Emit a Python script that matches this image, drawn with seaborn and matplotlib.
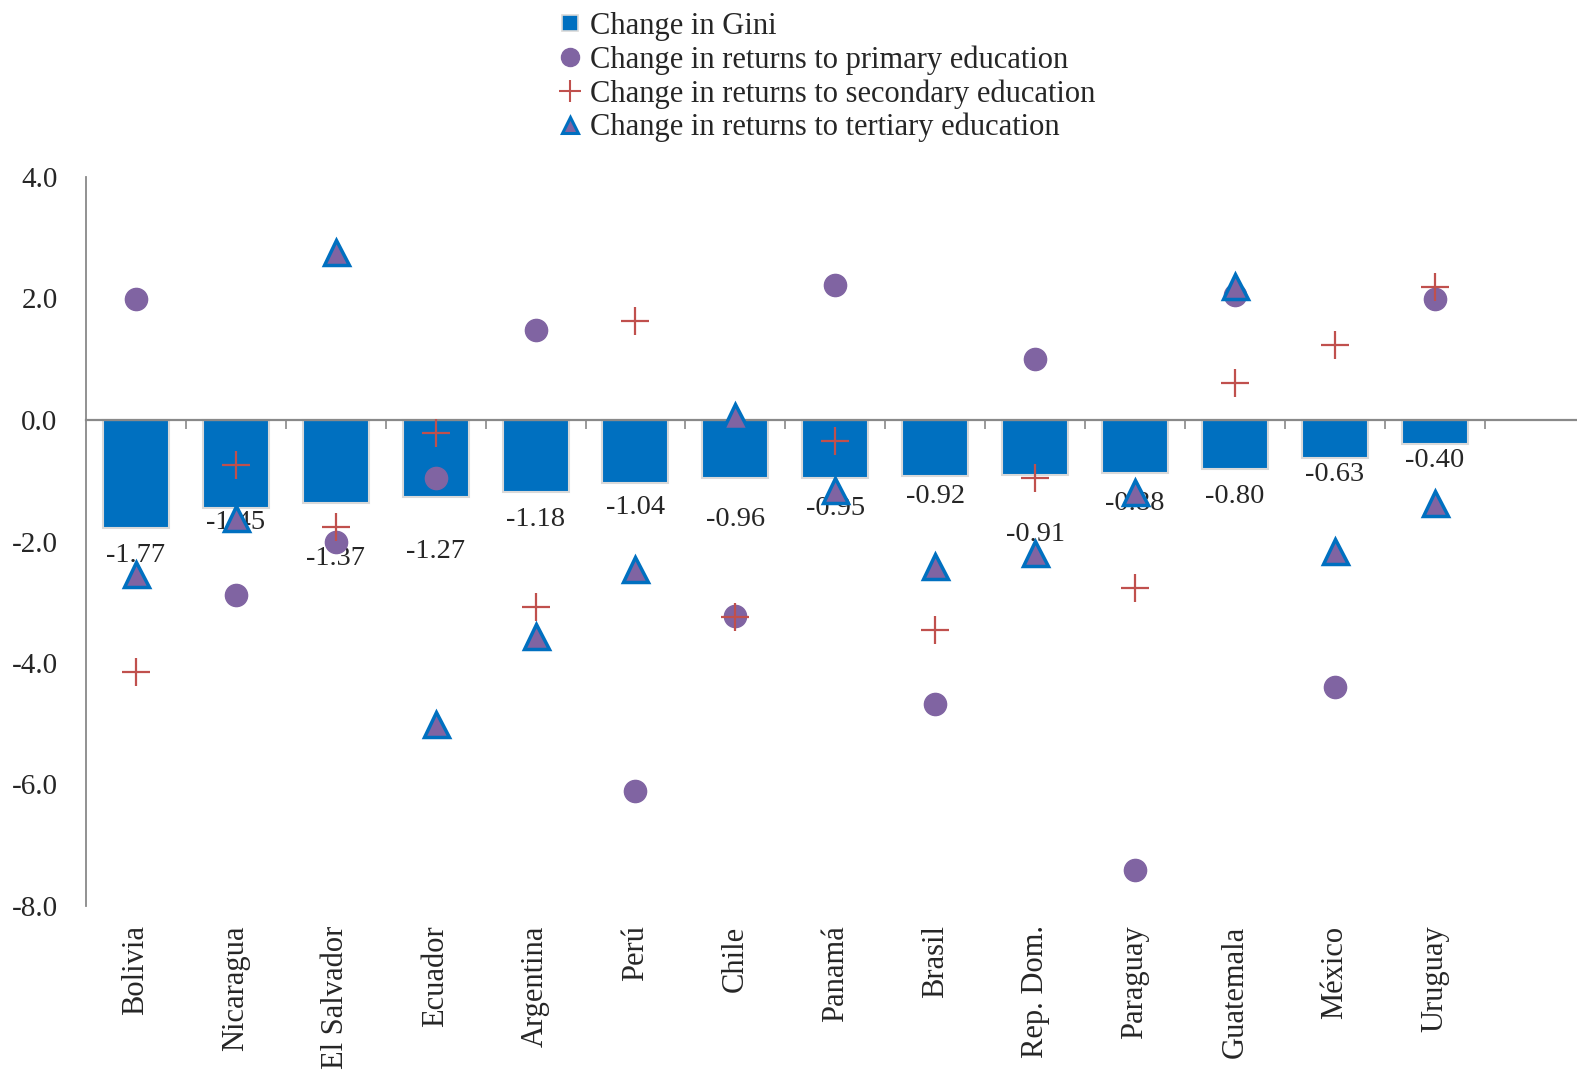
"""
Recreate the Gini change vs. returns to education chart for Latin America.

Bars show the change in the Gini coefficient; markers show the change in
returns to primary, secondary and tertiary education.
"""

import matplotlib.pyplot as plt
import numpy as np
import pandas as pd
import seaborn as sns
from matplotlib.lines import Line2D

COUNTRIES = [
    "Bolivia", "Nicaragua", "El Salvador", "Ecuador", "Argentina", "Perú",
    "Chile", "Panamá", "Brasil", "Rep. Dom.", "Paraguay", "Guatemala",
    "México", "Uruguay",
]
GINI_CHANGE = [
    -1.77, -1.45, -1.37, -1.27, -1.18, -1.04, -0.96,
    -0.95, -0.92, -0.91, -0.88, -0.80, -0.63, -0.40,
]
PRIMARY_RETURNS = [
    2.00, -2.88, -2.00, -0.95, 1.48, -6.10, -3.22,
    2.22, -4.67, 1.00, -7.40, 2.05, -4.39, 2.00,
]
SECONDARY_RETURNS = [
    -4.14, -0.74, -1.76, -0.21, -3.07, 1.63, -3.25,
    -0.35, -3.45, -0.95, -2.76, 0.61, 1.23, 2.19,
]
TERTIARY_RETURNS = [
    -2.53, -1.61, 2.76, -5.00, -3.55, -2.45, 0.07,
    -1.15, -2.40, -2.19, -1.18, 2.20, -2.15, -1.36,
]

# how far (in pixels) each data label sits below its bar end
LABEL_DROP_PX = [28, 14, 55, 54, 28, 24, 41, 31, 21, 59, 30, 28, 16, 16]

SERIES_NAMES = [
    "Change in Gini",
    "Change in returns to primary education",
    "Change in returns to secondary education",
    "Change in returns to tertiary education",
]

BAR_BLUE = "#0070C0"
BAR_EDGE = "#D9D9D9"
PURPLE = "#8064A2"
RED = "#C0504D"
AXIS_GRAY = "#898989"

FONT = "Liberation Serif"
LEGEND_SIZE = 22
CATEGORY_SIZE = 22
YTICK_SIZE = 21
DATA_LABEL_SIZE = 20.5

FIG_W_PX = 1577
FIG_H_PX = 1076
DPI = 100


def create_chart() -> None:
    sns.set_style("white")
    plt.rcParams["font.family"] = [FONT, "DejaVu Serif"]
    plt.rcParams["axes.unicode_minus"] = False

    frame = pd.DataFrame({"Country": COUNTRIES, "Gini": GINI_CHANGE})

    fig = plt.figure(figsize=(FIG_W_PX / DPI, FIG_H_PX / DPI), dpi=DPI)
    ax = fig.add_axes([86 / FIG_W_PX, 1 - 906 / FIG_H_PX,
                       1 - 86 / FIG_W_PX, 729 / FIG_H_PX])

    sns.barplot(
        data=frame, x="Country", y="Gini", order=COUNTRIES,
        color=BAR_BLUE, saturation=1, width=0.66,
        edgecolor=BAR_EDGE, linewidth=1.5, ax=ax, zorder=2,
    )

    positions = np.arange(len(COUNTRIES))

    for pos, value, drop in zip(positions, GINI_CHANGE, LABEL_DROP_PX):
        ax.annotate(
            f"{value:.2f}", xy=(pos, value),
            xytext=(0, -drop * 72 / DPI), textcoords="offset points",
            ha="center", va="center", fontsize=DATA_LABEL_SIZE, zorder=3,
        )

    ax.plot(positions, PRIMARY_RETURNS, linestyle="none", marker="o",
            markersize=16, color=PURPLE, zorder=4)
    ax.plot(positions, SECONDARY_RETURNS, linestyle="none", marker="+",
            markersize=20, markeredgewidth=1.6, color=RED, zorder=5)
    ax.plot(positions, TERTIARY_RETURNS, linestyle="none", marker="^",
            markersize=18, markerfacecolor=PURPLE, markeredgecolor=BAR_BLUE,
            markeredgewidth=2.5, zorder=6)

    ax.set_ylim(-8, 4)
    ax.set_xlim(-0.5, -0.5 + (FIG_W_PX - 86) / 99.9)
    ax.set_yticks(np.arange(-8, 4.1, 2))
    ax.set_yticklabels([f"{t:.1f}" for t in np.arange(-8, 4.1, 2)])
    ax.tick_params(axis="y", direction="out", length=6.5, width=1.2,
                   color=AXIS_GRAY, pad=14, labelsize=YTICK_SIZE)

    ax.set_xticks(positions)
    ax.set_xticklabels(COUNTRIES, rotation=90, va="top", ha="center")
    ax.tick_params(axis="x", length=0, pad=14, labelsize=CATEGORY_SIZE)
    ax.set_xlabel("")
    ax.set_ylabel("")

    for side in ["top", "right", "bottom"]:
        ax.spines[side].set_visible(False)
    ax.spines["left"].set_color(AXIS_GRAY)
    ax.spines["left"].set_linewidth(1.3)

    # category axis crossing at zero, with ticks between categories
    zero_at = (0 - ax.get_ylim()[0]) / (ax.get_ylim()[1] - ax.get_ylim()[0])
    zero_axis = ax.secondary_xaxis(zero_at)
    zero_axis.set_alignment("bottom")
    zero_axis.set_zorder(2.5)
    zero_axis.set_xticks(np.arange(0.5, len(COUNTRIES), 1))
    zero_axis.set_xticklabels([])
    zero_axis.tick_params(direction="out", length=6.5, width=1.2,
                          color=AXIS_GRAY)
    zero_axis.spines["bottom"].set_color(AXIS_GRAY)
    zero_axis.spines["bottom"].set_linewidth(1.6)

    handles = [
        Line2D([], [], linestyle="none", marker="s", markersize=11,
               markerfacecolor=BAR_BLUE, markeredgecolor=BAR_EDGE,
               markeredgewidth=1.2),
        Line2D([], [], linestyle="none", marker="o", markersize=13,
               color=PURPLE),
        Line2D([], [], linestyle="none", marker="+", markersize=16,
               markeredgewidth=1.5, color=RED),
        Line2D([], [], linestyle="none", marker="^", markersize=12,
               markerfacecolor=PURPLE, markeredgecolor=BAR_BLUE,
               markeredgewidth=2.2),
    ]
    fig.legend(
        handles, SERIES_NAMES, loc="upper left",
        bbox_to_anchor=(561 / FIG_W_PX, 1 - 12 / FIG_H_PX),
        frameon=False, fontsize=LEGEND_SIZE, handlelength=0.6,
        handletextpad=0.35, borderpad=0, borderaxespad=0,
        labelspacing=0.14,
    )

    fig.savefig("out.png", dpi=DPI)


if __name__ == "__main__":
    create_chart()
